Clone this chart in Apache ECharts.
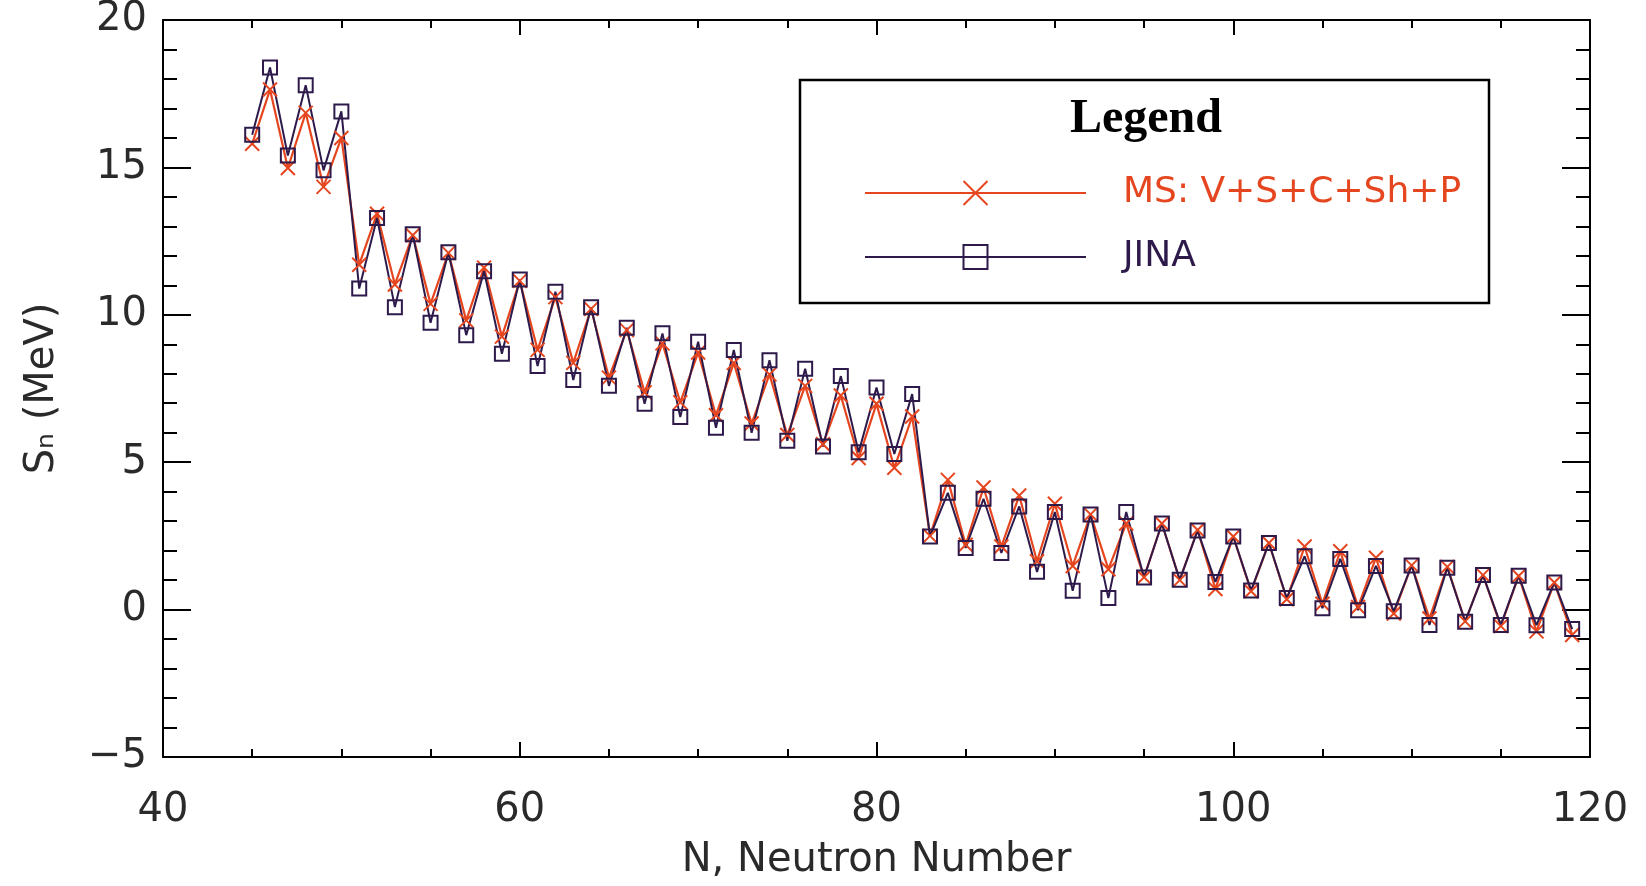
<!DOCTYPE html>
<html>
<head>
<meta charset="utf-8">
<script src="https://cdn.jsdelivr.net/npm/echarts@6/dist/echarts.min.js"></script>
<style>
html,body{margin:0;padding:0;background:#fff;}
#chart{width:1646px;height:886px;}
</style>
</head>
<body>
<div id="chart"></div>
<script>
// Neutron numbers (x)
var neutronN = [45,46,47,48,49,50,51,52,53,54,55,56,57,58,59,60,61,62,63,64,65,66,67,68,69,70,
  71,72,73,74,75,76,77,78,79,80,81,82,83,84,85,86,87,88,89,90,91,92,93,94,95,96,97,98,99,100,
  101,102,103,104,105,106,107,108,109,110,111,112,113,114,115,116,117,118,119];

// MS: V+S+C+Sh+P  (Sn, MeV)
var msValues = [15.8,17.64,14.98,16.85,14.34,16.0,11.7,13.43,11.03,12.7,10.37,12.1,9.81,11.6,9.26,11.15,
  8.81,10.6,8.37,10.2,7.87,9.48,7.37,9.03,7.03,8.72,6.59,8.37,6.31,7.98,5.92,7.59,5.61,7.26,5.14,6.98,
  4.81,6.55,2.5,4.4,2.2,4.14,2.14,3.87,1.64,3.59,1.48,3.23,1.37,2.92,1.1,2.92,1.0,2.7,0.7,2.48,
  0.62,2.26,0.35,2.14,0.2,1.98,0.09,1.76,-0.13,1.5,-0.3,1.45,-0.4,1.17,-0.56,1.14,-0.74,0.92,-0.86];

// JINA (Sn, MeV)
var jinaValues = [16.11,18.39,15.4,17.79,14.9,16.9,10.89,13.28,10.26,12.73,9.73,12.12,9.31,11.48,8.68,11.2,
  8.26,10.78,7.79,10.26,7.59,9.56,6.98,9.37,6.53,9.09,6.17,8.81,6.0,8.46,5.73,8.17,5.53,7.92,5.34,7.53,
  5.28,7.31,2.48,3.96,2.09,3.76,1.92,3.5,1.28,3.31,0.64,3.23,0.39,3.31,1.09,2.92,1.01,2.68,0.94,2.48,
  0.65,2.26,0.39,1.81,0.05,1.72,-0.02,1.48,-0.06,1.5,-0.52,1.42,-0.41,1.17,-0.52,1.15,-0.53,0.92,-0.66];

var seriesNames = ['MS: V+S+C+Sh+P', 'JINA'];
var xTitle = 'N, Neutron Number';
var yTitle = 'S\u2099 (MeV)';
var legendTitle = 'Legend';

var RED = '#e5461f';
var PURPLE = '#2d1a4b';
var FONT = '"DejaVu Sans", sans-serif';

function pairs(xs, ys) { return xs.map(function (x, i) { return [x, ys[i]]; }); }

var chart = echarts.init(document.getElementById('chart'), null, {renderer: 'canvas'});

function axisLineStyle() { return {show: true, onZero: false, lineStyle: {color: '#000', width: 2}}; }
function xAx(pos, showLabel) {
  return {
    type: 'value', position: pos, min: 40, max: 120, interval: 20,
    axisLine: axisLineStyle(),
    axisTick: {show: true, inside: true, length: 15, lineStyle: {color: '#000', width: 2}},
    minorTick: {show: true, splitNumber: 4, length: 8, lineStyle: {color: '#000', width: 2}},
    splitLine: {show: false}, minorSplitLine: {show: false},
    axisLabel: {show: showLabel, fontSize: 40, fontFamily: FONT, color: '#2a2a2a', margin: 34},
    name: showLabel ? xTitle : '', nameLocation: 'middle', nameGap: 84,
    nameTextStyle: {fontSize: 40, fontFamily: FONT, color: '#2a2a2a'}
  };
}
function yAx(pos, showLabel) {
  return {
    type: 'value', position: pos, min: -5, max: 20, interval: 5,
    axisLine: axisLineStyle(),
    axisTick: {show: true, inside: true, length: 28, lineStyle: {color: '#000', width: 2}},
    minorTick: {show: true, splitNumber: 5, length: 14, lineStyle: {color: '#000', width: 2}},
    splitLine: {show: false}, minorSplitLine: {show: false},
    axisLabel: {show: showLabel, fontSize: 40, fontFamily: FONT, color: '#2a2a2a', margin: 16,
      formatter: function (v) { return String(v).replace('-', '\u2212'); }},
    name: showLabel ? yTitle : '', nameLocation: 'middle', nameGap: 100, nameRotate: 90,
    nameTextStyle: {fontSize: 40, fontFamily: FONT, color: '#2a2a2a'}
  };
}

var option = {
  backgroundColor: '#fff',
  animation: false,
  grid: {left: 163, right: 56, top: 11, bottom: 125, containLabel: false},
  xAxis: [xAx('bottom', true), xAx('top', false)],
  yAxis: [yAx('left', true), yAx('right', false)],
  legend: {
    orient: 'vertical', left: 864, top: 175, padding: 0,
    itemWidth: 221, itemHeight: 30, itemGap: 28, selectedMode: false,
    textStyle: {fontSize: 36, fontFamily: FONT, padding: [0, 0, 0, 32]},
    data: [
      {name: seriesNames[0], textStyle: {color: RED}},
      {name: seriesNames[1], textStyle: {color: PURPLE}}
    ]
  },
  graphic: [
    {type: 'rect', shape: {x: 800, y: 80, width: 689, height: 223},
     style: {fill: 'none', stroke: '#000', lineWidth: 2.5}, z: 100},
    {type: 'text', x: 1146, y: 120,
     style: {text: legendTitle, font: 'bold 48px "Liberation Serif", serif', fill: '#000',
             textAlign: 'center', textVerticalAlign: 'middle'}, z: 100}
  ],
  series: [
    {
      name: seriesNames[0], type: 'line', xAxisIndex: 0, yAxisIndex: 0,
      data: pairs(neutronN, msValues),
      symbol: 'path://M0,0L10,10M10,0L0,10', symbolSize: 14, showAllSymbol: true,
      lineStyle: {color: RED, width: 2.2},
      itemStyle: {color: RED, borderColor: RED, borderWidth: 2},
      emphasis: {disabled: true}
    },
    {
      name: seriesNames[1], type: 'line', xAxisIndex: 0, yAxisIndex: 0,
      data: pairs(neutronN, jinaValues),
      symbol: 'rect', symbolSize: 14, showAllSymbol: true,
      lineStyle: {color: PURPLE, width: 2},
      itemStyle: {color: 'rgba(0,0,0,0)', borderColor: PURPLE, borderWidth: 2},
      emphasis: {disabled: true}
    }
  ]
};
chart.setOption(option);
</script>
</body>
</html>
